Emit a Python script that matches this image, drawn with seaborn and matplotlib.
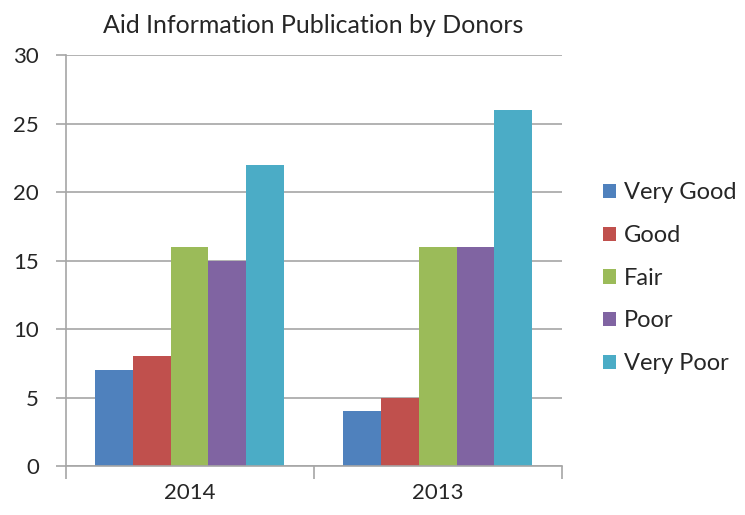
import pandas as pd
import matplotlib
matplotlib.use("Agg")
import matplotlib.pyplot as plt
import seaborn as sns

years = ["2014", "2013"]
ratings = ["Very Good", "Good", "Fair", "Poor", "Very Poor"]
vals_2014 = [7, 8, 16, 15, 22]
vals_2013 = [4, 5, 16, 16, 26]
colors = ["#4F81BD", "#C0504D", "#9BBB59", "#8064A2", "#4BACC6"]

rows = []
for r, a, b in zip(ratings, vals_2014, vals_2013):
    rows.append({"year": "2014", "rating": r, "count": a})
    rows.append({"year": "2013", "rating": r, "count": b})
df = pd.DataFrame(rows)

sns.set_style("white")
plt.rcParams['font.family'] = ['Lato', 'DejaVu Sans']

fig = plt.figure(figsize=(7.45, 5.15), dpi=100)
ax = fig.add_axes([0.088, 0.095, 0.666, 0.798])

sns.barplot(data=df, x="year", y="count", hue="rating", order=years,
            hue_order=ratings, palette=colors, width=0.76, saturation=1,
            linewidth=0, ax=ax)

ax.set_ylim(0, 30)
ax.set_xlim(-0.5, 1.5)
ax.set_yticks(range(0, 31, 5))
ax.yaxis.grid(True, color="#a6a6a6", linewidth=1.2)
ax.set_axisbelow(True)
ax.set_xlabel("")
ax.set_ylabel("")

for s in ["top", "right"]:
    ax.spines[s].set_visible(False)
for s in ["left", "bottom"]:
    ax.spines[s].set_color("#a6a6a6")
    ax.spines[s].set_linewidth(1.2)

ax.tick_params(axis="y", left=True, length=7, width=1.2, color="#a6a6a6",
               labelsize=16, pad=12)
ax.tick_params(axis="x", bottom=False, labelsize=16, pad=9)
# category boundary ticks
ax.set_xticks([-0.5, 0.5, 1.5], minor=True)
ax.tick_params(axis="x", which="minor", bottom=True, length=9, width=1.2,
               color="#a6a6a6")

ax.set_title("Aid Information Publication by Donors", fontsize=18, pad=16)

leg = ax.legend(loc="center left", bbox_to_anchor=(1.04, 0.457), frameon=False,
                fontsize=17, handlelength=0.55, handleheight=0.55,
                handletextpad=0.35, labelspacing=0.92)

fig.savefig("out.png", dpi=100)
